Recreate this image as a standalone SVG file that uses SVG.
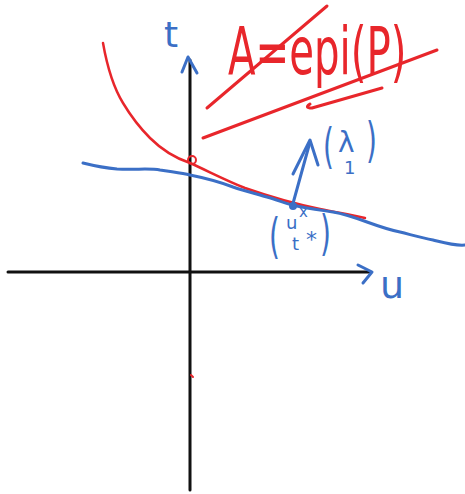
<svg xmlns="http://www.w3.org/2000/svg" width="465" height="494" viewBox="0 0 465 494">
<style>
.ax{stroke:#111;stroke-width:3;fill:none;stroke-linecap:round}
.bl{stroke:#3b6fc6;fill:none;stroke-linecap:round;stroke-linejoin:round}
.rd{stroke:#e8262b;fill:none;stroke-linecap:round;stroke-linejoin:round}
.bt{fill:#3b6fc6;font-family:"DejaVu Sans",sans-serif}
.rt{fill:#e8262b;font-family:"DejaVu Sans",sans-serif}
</style>
<rect width="465" height="494" fill="#fff"/>
<g id="axes">
<line class="ax" x1="8" y1="272" x2="370" y2="272"/>
<line class="ax" x1="190" y1="60" x2="190" y2="490"/>
<path class="bl" stroke-width="3" d="M182,72 L188,57 L197,73"/>
<path class="bl" stroke-width="3" d="M358,265 L372,272 L363,283"/>
</g>
<g id="epigraph">
<path class="rd" stroke-width="2.5" d="M103,43 C106,60 112,85 123,103 C132,118 140,128 150,138 C160,148 175,158 190,163 C210,172 225,180 245,188 C265,195 290,203 320,209 C340,213 352,215 365,218"/>
<circle class="rd" stroke-width="2" cx="192" cy="160" r="4"/>
<path class="rd" stroke-width="2" d="M191,375 l2,2"/>
</g>
<g id="supporting-line">
<path class="bl" stroke-width="3" d="M83,163 C95,166 105,168 117,169 C135,170 150,168 160,170 C172,172 182,173 190,175 C205,178 220,182 233,187 C245,191 257,194 267,197 C277,200 285,203 292,205 C305,208 320,210 333,212 C345,214 356,218 367,222 C378,226 390,230 400,232 C412,235 422,238 433,240 C445,243 455,246 465,245"/>
</g>
<g id="normal-vector">
<path class="bl" stroke-width="3" d="M292,207 L310,142"/>
<path class="bl" stroke-width="3" d="M293,174 L310,140 L318,165"/>
<circle cx="293" cy="206" r="4" fill="#3b6fc6"/>
</g>
<g id="labels">
<text class="bt" x="164" y="47" font-size="36">t</text>
<text class="bt" x="380" y="298" font-size="38">u</text>
<text class="bt" transform="translate(323,163) scale(0.7,1.2)" font-size="40">(</text>
<text class="bt" x="338" y="152" font-size="28">λ</text>
<text class="bt" x="344" y="174" font-size="18">1</text>
<text class="bt" transform="translate(366,157) scale(0.7,1.2)" font-size="40">)</text>
<text class="bt" transform="translate(269,253) scale(0.7,1.2)" font-size="40">(</text>
<text class="bt" x="286" y="229" font-size="18">u</text>
<text class="bt" x="299" y="217" font-size="15">x</text>
<text class="bt" x="292" y="250" font-size="18">t</text>
<text class="bt" x="306" y="247" font-size="22">*</text>
<text class="bt" transform="translate(320,250) scale(0.7,1.2)" font-size="40">)</text>
</g>
<g id="set-label">
<text class="rt" transform="translate(228,74) scale(0.61,1)" font-size="66">A=epi(P)</text>
<path class="rd" stroke-width="3" d="M207,108 L327,6"/>
<path class="rd" stroke-width="3" d="M203,138 L437,50"/>
<path class="rd" stroke-width="3" d="M310,104 q-6,4 2,4 L382,88"/>
</g>
</svg>
